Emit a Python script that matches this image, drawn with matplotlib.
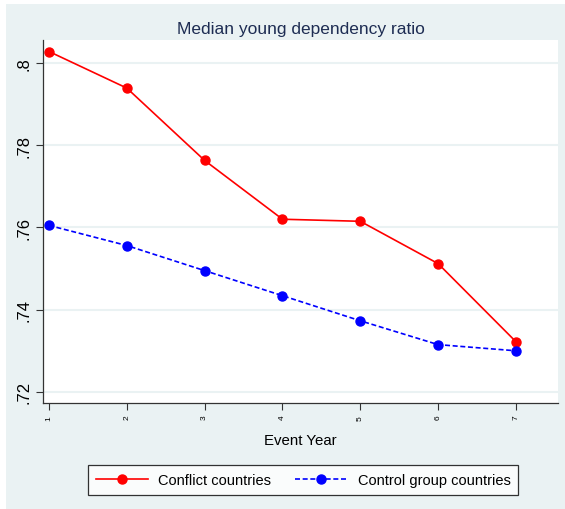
import matplotlib.pyplot as plt
from matplotlib.patches import Rectangle

plt.rcParams['font.family'] = ['Liberation Sans', 'DejaVu Sans']

years = [1, 2, 3, 4, 5, 6, 7]
conflict = [0.8028, 0.7939, 0.7763, 0.7620, 0.7615, 0.7512, 0.7322]
control = [0.7605, 0.7556, 0.7495, 0.7434, 0.7373, 0.7315, 0.7300]
yticks = [0.72, 0.74, 0.76, 0.78, 0.80]
ylabels = ['.72', '.74', '.76', '.78', '.8']

bg = '#eaf2f3'
fig = plt.figure(figsize=(5.65, 5.10), dpi=100)
fig.patch.set_facecolor('white')
fig.patches.append(Rectangle((6 / 565, 0), 1, 1 - 5 / 510, transform=fig.transFigure,
                             facecolor=bg, edgecolor='none', zorder=-10))

ax = fig.add_axes([43 / 565, 106 / 510, 515 / 565, 363 / 510])
ax.set_facecolor('white')
for y in yticks:
    ax.axhline(y, color=bg, lw=1.5, zorder=0)

ax.plot(years, conflict, color='red', lw=1.2, marker='o', ms=6.5,
        label='Conflict countries')
ax.plot(years, control, color='blue', lw=1.2, ls=(0, (3, 1.6)), marker='o', ms=6.5,
        label='Control group countries')

ax.set_xlim(0.923, 7.54)
ax.set_ylim(0.7173, 0.8056)
ax.set_xticks(years)
ax.set_xticklabels([str(v) for v in years], rotation=90, fontsize=6)
ax.set_yticks(yticks)
ax.set_yticklabels(ylabels, rotation=90, va='center', fontsize=12)
ax.tick_params(direction='out', length=5, color='#333333', width=0.8)
for s in ['top', 'right']:
    ax.spines[s].set_visible(False)
for s in ['left', 'bottom']:
    ax.spines[s].set_color('#333333')
    ax.spines[s].set_linewidth(0.9)

ax.set_xlabel('Event Year', fontsize=10.8, labelpad=10)
ax.set_title('Median young dependency ratio', fontsize=12.5, color='#1e2d53', pad=5)

leg = ax.legend(loc='upper center', bbox_to_anchor=(0.505, -0.15), ncol=2, fontsize=10.5,
                frameon=True, fancybox=False, edgecolor='black', handlelength=3.6,
                handletextpad=0.7, columnspacing=1.6, borderpad=0.55)
leg.get_frame().set_linewidth(0.9)

fig.savefig('out.png', dpi=100, facecolor=fig.get_facecolor())
